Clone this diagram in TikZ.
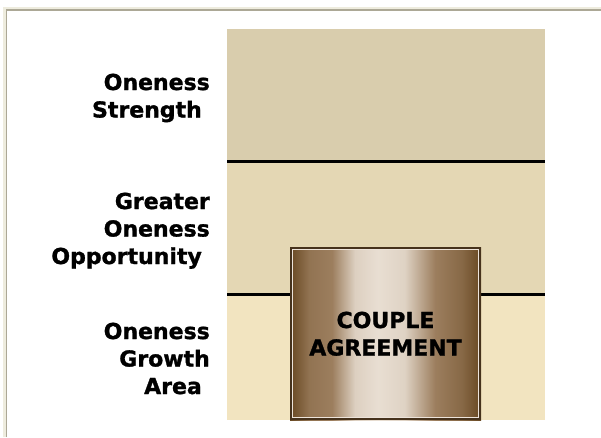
\documentclass[tikz,border=0pt]{standalone}
\usepackage{fontspec}
\setmainfont{DejaVu Sans}[BoldFeatures={FakeBold=1.3}]
\begin{document}
\definecolor{bandtop}{RGB}{217,205,173}
\definecolor{bandmid}{RGB}{228,215,180}
\definecolor{bandlow}{RGB}{242,228,192}
\definecolor{framecream}{RGB}{238,236,222}
\definecolor{framegray}{RGB}{172,168,150}
\definecolor{brassdark}{RGB}{104,72,34}
\definecolor{brassmid}{RGB}{156,126,94}
\definecolor{brasslight}{RGB}{232,222,210}
\definecolor{brassedge}{RGB}{70,50,28}
% horizontal metallic gradient for the agreement plate (visible range 25bp..75bp)
\pgfdeclarehorizontalshading{brass}{100bp}{%
  color(0bp)=(brassdark); color(25bp)=(brassdark);
  color(30bp)=(brassmid!80!brassdark); color(36bp)=(brassmid);
  color(42bp)=(brasslight!85!brassmid); color(48bp)=(brasslight);
  color(55bp)=(brasslight!88!brassmid); color(63bp)=(brassmid);
  color(70bp)=(brassmid!60!brassdark); color(75bp)=(brassdark); color(100bp)=(brassdark)}
\begin{tikzpicture}[x=1pt,y=-1pt,
  labeltext/.style={anchor=base east,inner sep=0pt,font=\bfseries\fontsize{22}{27.5}\selectfont},
  platetext/.style={anchor=base,inner sep=0pt,font=\bfseries\fontsize{22}{27.5}\selectfont},
  divider/.style={line width=3pt,black}]
\useasboundingbox[fill=white] (0,0) rectangle (601,437);
% sunken window frame
\draw[framecream,line width=2.6pt] (4.5,437) -- (4.5,7.8) -- (601,7.8);
\draw[framegray,line width=1.6pt] (6.6,437) -- (6.6,10.2) -- (601,10.2);
% three horizontal bands
\fill[bandtop] (227,29) rectangle (545,161.5);
\fill[bandmid] (227,161.5) rectangle (545,294.5);
\fill[bandlow] (227,294.5) rectangle (545,420);
\coordinate (d1l) at (227,161.5); \coordinate (d1r) at (545,161.5);
\coordinate (d2l) at (227,294.5); \coordinate (d2r) at (545,294.5);
\draw[divider] (d1l) -- (d1r);
\draw[divider] (d2l) -- (d2r);
% agreement plate
\shade[shading=brass] (290,247) rectangle (481,420);
\draw[brassedge,line width=1.6pt] (291,248) rectangle (480,419);
\draw[brasslight!80!white,line width=0.8pt] (292.8,249.8) rectangle (478.2,417.2);
\node[platetext] (p1) at (385.5,328) {COUPLE};
\node[platetext] (p2) at (385.5,355.5) {AGREEMENT};
% band labels
\node[labeltext] (a1) at (210,90) {Oneness};
\node[labeltext] (a2) at (210,117.5) {Strength\hspace*{8pt}};
\node[labeltext] (b1) at (210,209) {Greater};
\node[labeltext] (b2) at (210,236.5) {Oneness};
\node[labeltext] (b3) at (210,264) {Opportunity\hspace*{8pt}};
\node[labeltext] (c1) at (210,339) {Oneness};
\node[labeltext] (c2) at (210,366.5) {Growth};
\node[labeltext] (c3) at (210,394) {Area\hspace*{8pt}};
\end{tikzpicture}
\end{document}
